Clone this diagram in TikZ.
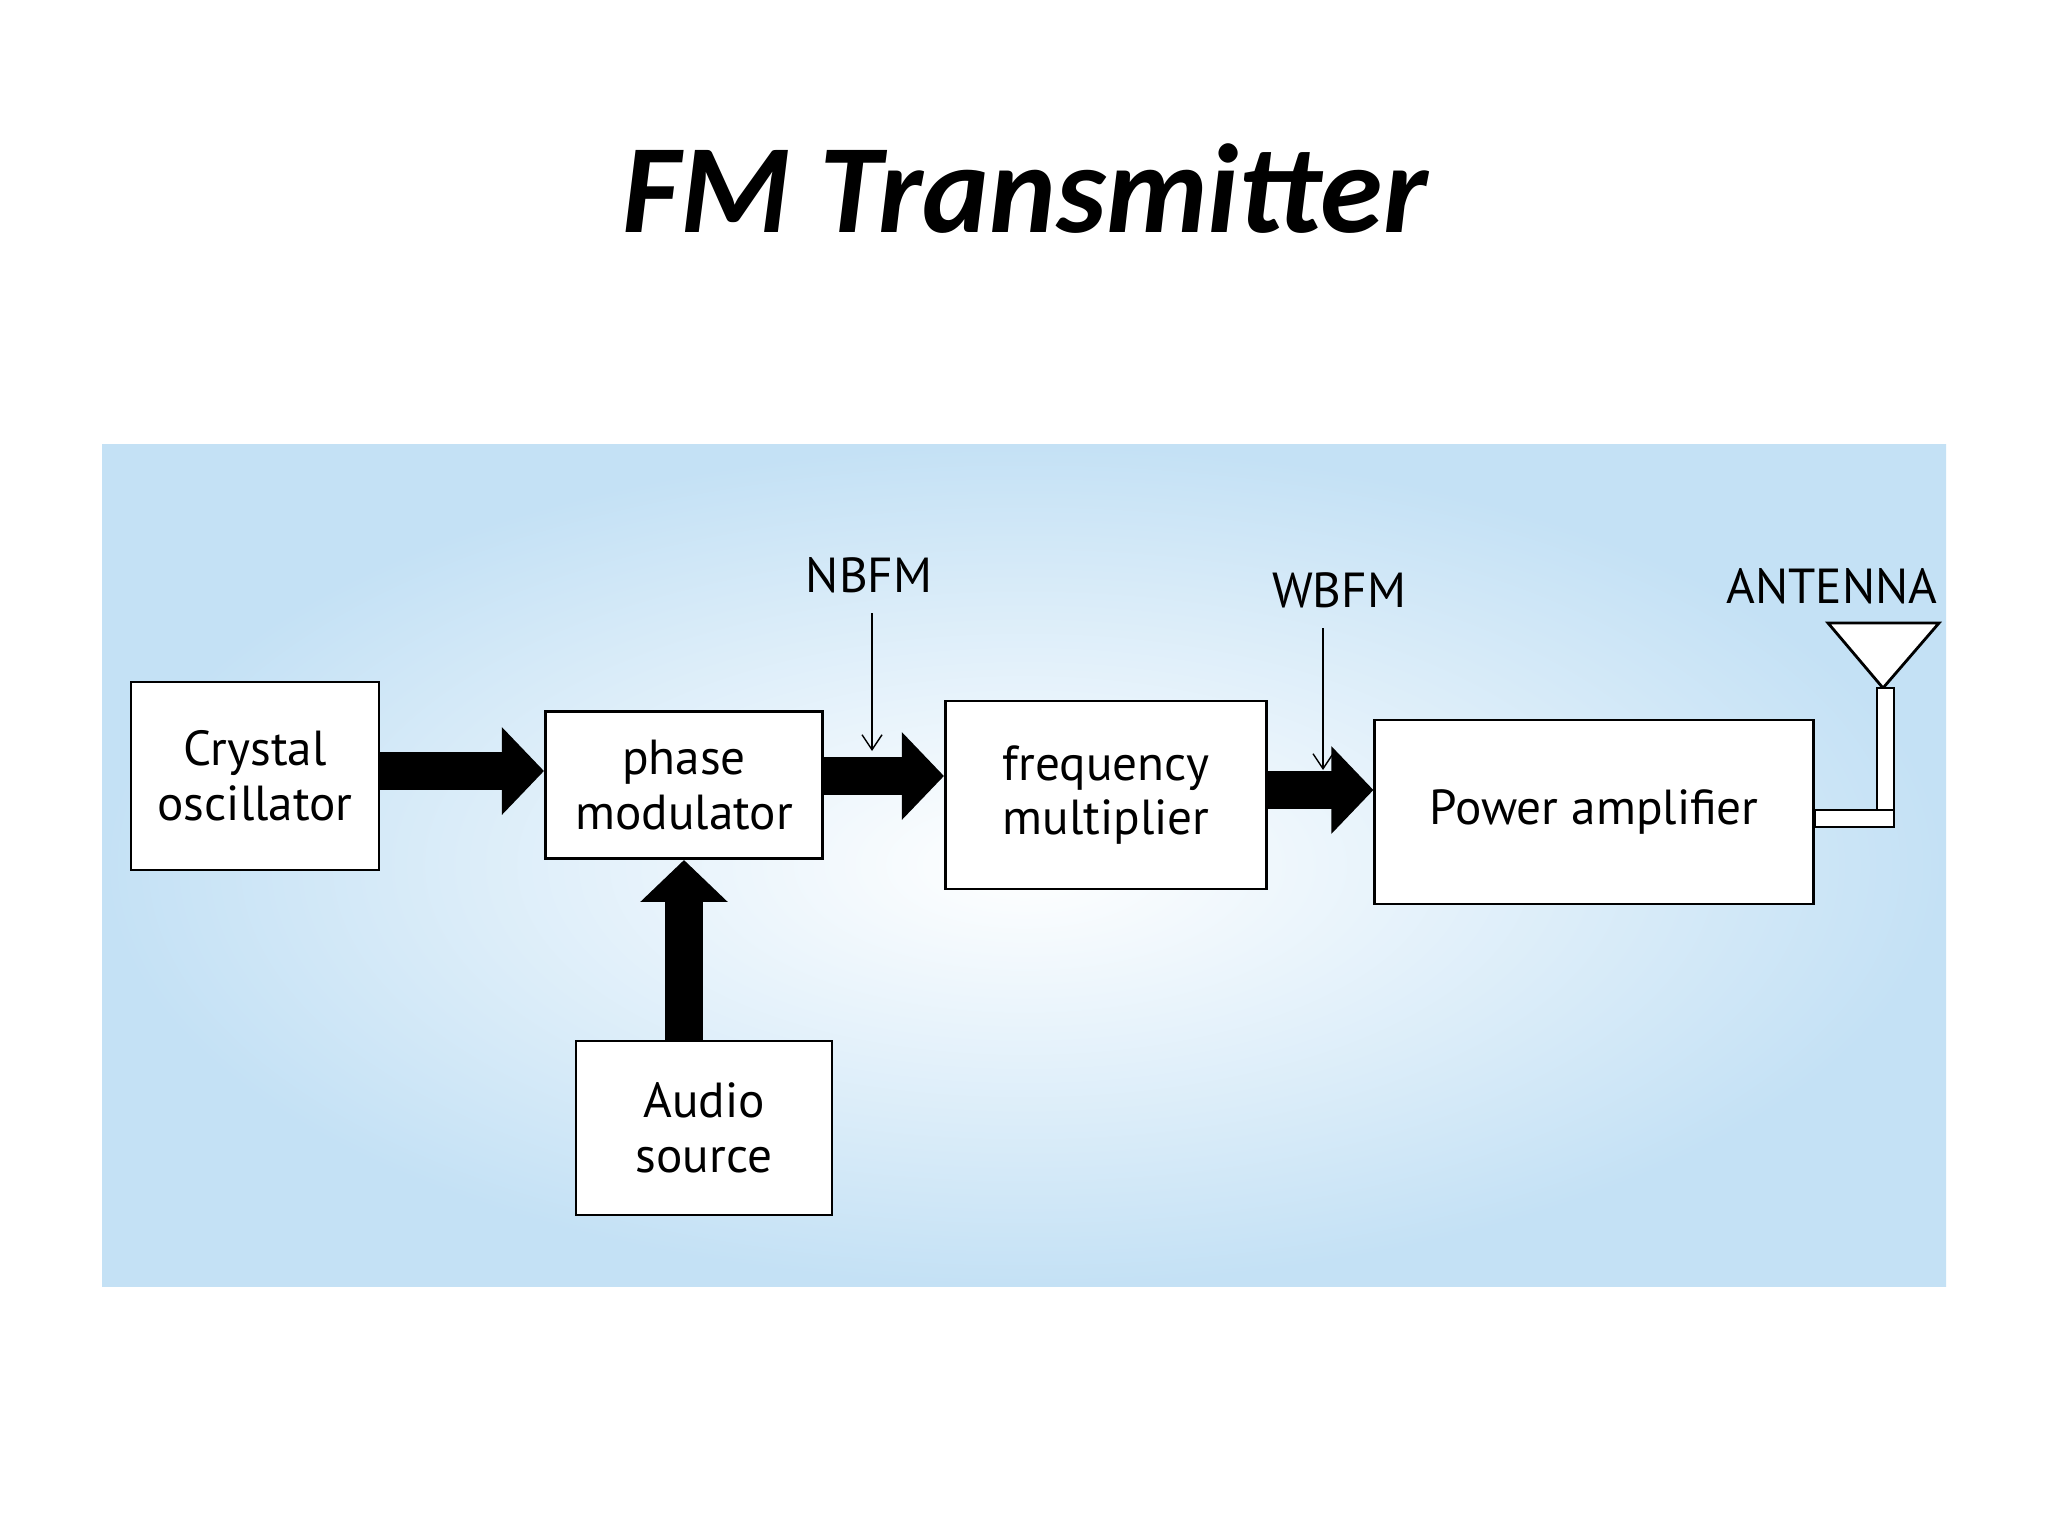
\documentclass[tikz,border=0pt]{standalone}
\usepackage{fontspec}
\setmainfont{PT Sans}
\newfontfamily\titlefont{Carlito}
\usetikzlibrary{arrows.meta,positioning}
\definecolor{panelblue}{RGB}{196,225,245}
\begin{document}
\begin{tikzpicture}[x=0.01cm,y=-0.01cm,
		block/.style={draw=black,thick,fill=white,align=center,font=\fontsize{14}{15.5}\selectfont,inner sep=0pt},
		fat arrow/.style={line width=0.38cm,-{Triangle[length=0.42cm,width=0.85cm]}},
		thin arrow/.style={thin,-{Straight Barb[length=0.15cm,width=0.2cm]}},
		tag/.style={font=\fontsize{14}{16}\selectfont,inner sep=0pt}
	]
	\useasboundingbox (0,0) rectangle (2048,1536);
	\fill[white] (0,0) rectangle (2048,1536);
	\shade[inner color=white,outer color=panelblue] (102,444) rectangle (1946,1286);
	\node (title) at (1025,189) {\titlefont\bfseries\itshape\fontsize{36}{42}\selectfont FM Transmitter};

	\node[block,minimum width=2.48cm,minimum height=1.88cm] (crystal) at (255,776) {Crystal\\oscillator};
	\node[block,minimum width=2.77cm,minimum height=1.47cm] (phase) at (684,785) {phase\\modulator};
	\node[block,minimum width=3.21cm,minimum height=1.88cm] (freq) at (1106,795) {frequency\\multiplier};
	\node[block,minimum width=4.38cm,minimum height=1.84cm] (power) at (1594,812) {Power amplifier};
	\node[block,minimum width=2.56cm,minimum height=1.74cm] (audio) at (704,1128) {Audio\\source};

	\draw[fat arrow] (crystal.east |- 0,771) -- (phase.west |- 0,771);
	\draw[fat arrow] (phase.east |- 0,776) -- (freq.west |- 0,776);
	\draw[fat arrow] (freq.east |- 0,790) -- (power.west |- 0,790);
	\draw[fat arrow] (audio.north -| 684,0) -- (phase.south -| 684,0);

	\node[tag] (nbfm) at (869,575) {NBFM};
	\coordinate (nbfm end) at (872,751);
	\draw[thin arrow] (nbfm.south -| nbfm end) ++(0,20) -- (nbfm end);
	\node[tag] (wbfm) at (1339,590) {WBFM};
	\coordinate (wbfm end) at (1323,770);
	\draw[thin arrow] (wbfm.south -| wbfm end) ++(0,20) -- (wbfm end);

	\node[tag] (antenna) at (1832,586) {ANTENNA};
	\draw[thick,fill=white] (1828,623) -- (1939,623) -- (1883,688) -- cycle;
	\draw[thick,fill=white] (1877,688) rectangle (1894,827);
	\draw[thick,fill=white] (power.east |- 0,810) rectangle (1894,827);
\end{tikzpicture}
\end{document}
